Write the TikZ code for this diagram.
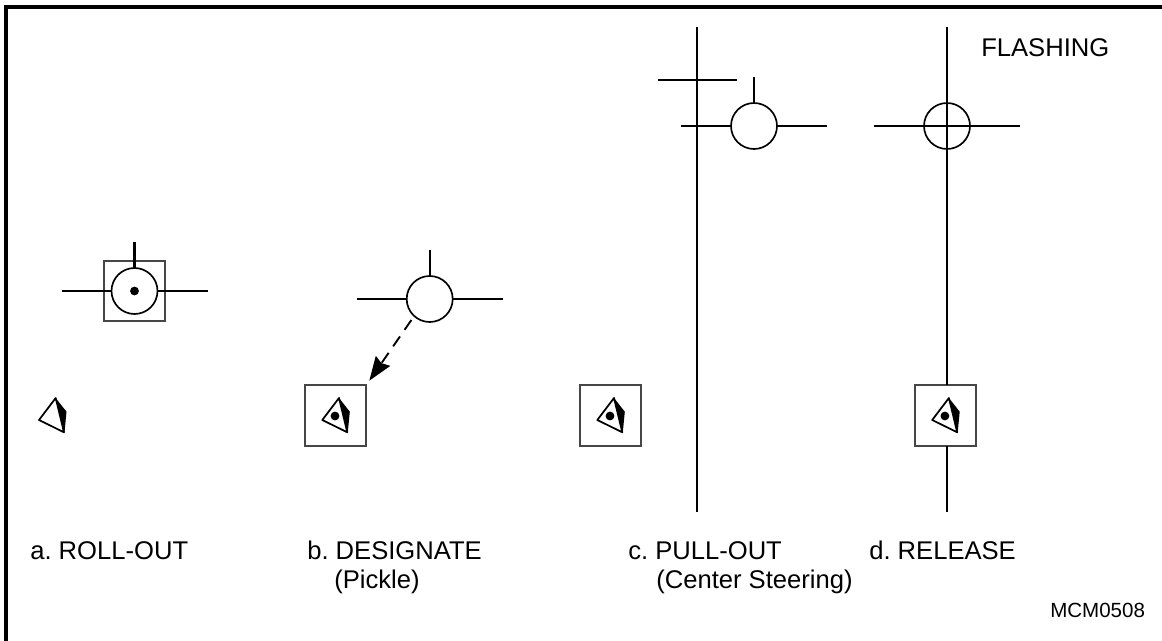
\documentclass[tikz,border=0pt]{standalone}
\usepackage{fontspec}
\setmainfont{Liberation Sans}
\usepackage{tikz}
\usetikzlibrary{calc,arrows.meta}
\definecolor{boxEdgeColor}{RGB}{70,70,70}

\begin{document}
\frenchspacing
\begin{tikzpicture}[
        x=.75pt, y=-.75pt,
        steerline/.style={line width=1.65pt},
        ring/.style={
                draw,
                circle,
                line width=1.25pt,
                inner sep=0pt,
                outer sep=0pt,
                minimum size=34.5pt
            },
        sightbox/.style={
                draw=boxEdgeColor,
                rectangle,
                line width=1.35pt,
                inner sep=0pt,
                outer sep=0pt,
                minimum size=45.5pt
            },
        pipper/.style={
                fill,
                circle,
                inner sep=0pt,
                minimum size=6.6pt
            },
        caption/.style={
                font=\fontsize{19.2}{22}\selectfont,
                anchor=base west,
                inner sep=0pt
            },
        eyemark/.pic={
                \fill (3.5,-17.7) -- (14.3,-4) -- (12.3,16.6) -- cycle;
                \draw[line width=1.3pt, line join=round] (3.5,-17.7) -- (-13.2,4.3) -- (11.8,16.6) -- cycle;
            }
    ]
    \useasboundingbox (0,0) rectangle (1162,641);

    % ---- Sizes ----
    \def\armlen{50}
    \def\ticklen{26}

    % ---- Frame ----
    \coordinate (framebl) at (6,641);
    \coordinate (frametl) at (6,7);
    \coordinate (frametr) at (1162,7);
    \draw[line width=3pt] (framebl) -- (frametl) -- (frametr);

    % ---- Roll-out ----
    \node[sightbox] (boxa) at (134.5,291) {};
    \node[ring] (ringa) at (134.5,291) {};
    \node[pipper] (dota) at (ringa.center) {};
    \draw[steerline] (ringa.west) -- ($(ringa.west)+(-\armlen,0)$);
    \draw[steerline] (ringa.east) -- ($(ringa.east)+(\armlen,0)$);
    \draw[steerline] (ringa.north) -- ($(ringa.north)+(0,-\ticklen)$);
    \pic at (52.2,415.7) {eyemark};

    % ---- Designate ----
    \node[ring] (ringb) at (429.7,299) {};
    \draw[steerline] (ringb.west) -- ($(ringb.west)+(-\armlen,0)$);
    \draw[steerline] (ringb.east) -- ($(ringb.east)+(\armlen,0)$);
    \draw[steerline] (ringb.north) -- ($(ringb.north)+(0,-\ticklen)$);
    \node[sightbox] (boxb) at (335.5,415.7) {};
    \pic at (boxb.center) {eyemark};
    \node[pipper] (dotb) at ($(boxb.center)+(-.5,.3)$) {};

    % dashed line towards the box
    \coordinate (tipb) at (369.3,380.7);
    \draw[line width=1.4pt, dash pattern=on 9pt off 6pt, -{Stealth[length=18pt,width=13pt,inset=2pt]}]
    ($(ringb.center)+(-18.3,21)$) -- (tipb);

    % ---- Pull-out ----
    \coordinate (topc) at (697,27);
    \coordinate (botc) at (697,512);
    \draw[steerline] (topc) -- (botc);
    \coordinate (crossl) at (658,80);
    \coordinate (crossr) at (736.7,80);
    \draw[steerline] (crossl) -- (crossr);
    \node[ring] (ringc) at (754,126) {};
    \draw[steerline] (ringc.west) -- ($(ringc.west)+(-\armlen,0)$);
    \draw[steerline] (ringc.east) -- ($(ringc.east)+(\armlen,0)$);
    \draw[steerline] (ringc.north) -- ($(ringc.north)+(0,-\ticklen)$);
    \node[sightbox] (boxc) at (610.5,415.7) {};
    \pic at (boxc.center) {eyemark};
    \node[pipper] (dotc) at ($(boxc.center)+(-.5,.3)$) {};

    % ---- Release ----
    \node[ring] (ringd) at (947,126) {};
    \node[sightbox] (boxd) at (945.4,415.7) {};
    \pic at (boxd.center) {eyemark};
    \node[pipper] (dotd) at ($(boxd.center)+(-.5,.3)$) {};
    \coordinate (topd) at (947,27);
    \coordinate (botd) at (947,512);
    \draw[steerline] (topd) -- (topd |- boxd.north);
    \draw[steerline] (topd |- boxd.south) -- (botd);
    \draw[steerline] ($(ringd.west)+(-\armlen,0)$) -- ($(ringd.east)+(\armlen,0)$);

    % ---- Labels ----
    \node[caption] (flashing) at (981,56.5) {FLASHING};
    \node[caption] (capa) at (30,559.5) {a. ROLL-OUT};
    \node[caption] (capb) at (307,559.5) {b. DESIGNATE};
    \node[caption] (subb) at (334,588.5) {(Pickle)};
    \node[caption] (capc) at (628,559.5) {c. PULL-OUT};
    \node[caption] (subc) at (656,588.5) {(Center Steering)};
    \node[caption] (capd) at (869,559.5) {d. RELEASE};
    \node[caption, font=\fontsize{15.4}{18}\selectfont] (figno) at (1050,617.3) {MCM0508};
\end{tikzpicture}
\end{document}
